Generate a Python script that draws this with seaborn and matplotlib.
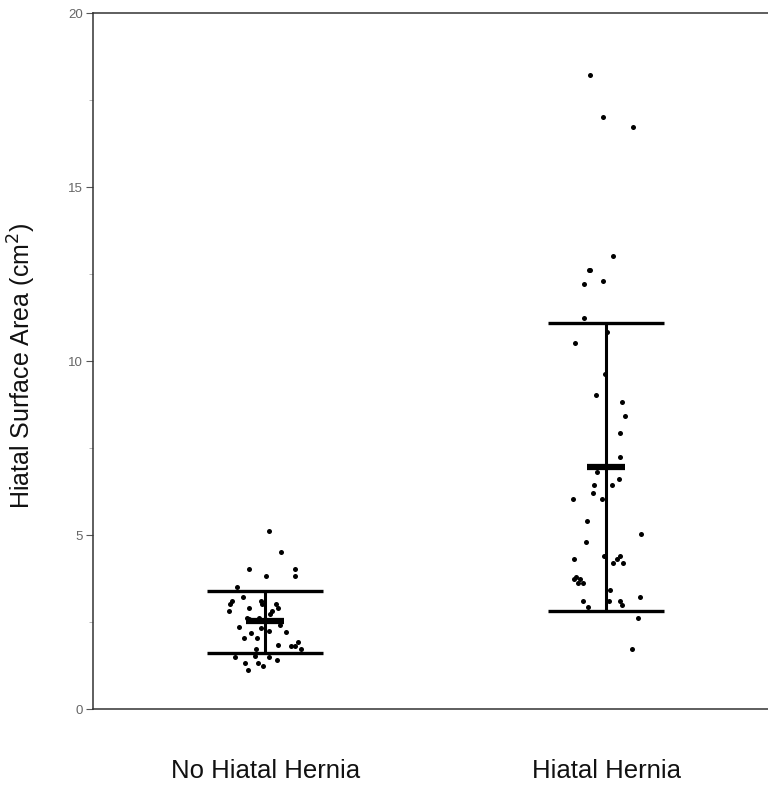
import numpy as np
import pandas as pd
import matplotlib
matplotlib.use("Agg")
import matplotlib.pyplot as plt
import seaborn as sns
from matplotlib.ticker import MultipleLocator

categories = ["No Hiatal Hernia", "Hiatal Hernia"]

no_hh = [5.11, 4.52, 4.01, 3.82, 4.01, 3.82, 3.51, 3.21, 3.11, 3.11, 3.02, 3.02,
         3.01, 2.91, 2.91, 2.82, 2.82, 2.72, 2.62, 2.62, 2.59, 2.41, 2.32, 2.36,
         2.25, 2.22, 2.17, 2.03, 2.03, 1.92, 1.72, 1.84, 1.81, 1.82, 1.72, 1.50,
         1.41, 1.50, 1.52, 1.31, 1.31, 1.24, 1.12]
hh = [18.22, 17.02, 16.71, 13.03, 12.61, 12.61, 12.31, 12.21, 11.23, 10.82,
      10.51, 9.63, 9.02, 8.81, 8.42, 7.92, 7.23, 6.82, 6.61, 6.44, 6.44, 6.22,
      6.03, 6.03, 5.41, 5.02, 4.81, 4.40, 4.30, 4.20, 4.41, 4.20, 4.31, 3.73,
      3.61, 3.73, 3.80, 3.61, 3.42, 3.11, 3.23, 3.11, 3.11, 2.99, 2.92, 2.62, 1.72]

means = [2.53, 6.96]
sd_low = [1.60, 2.83]
sd_high = [3.40, 11.10]

y_ticks = [0, 5, 10, 15, 20]

df = pd.DataFrame({
    "group": [categories[0]] * len(no_hh) + [categories[1]] * len(hh),
    "value": no_hh + hh,
})

sns.set_theme(style="white")
plt.rcParams["font.family"] = ["Liberation Sans", "DejaVu Sans"]

fig = plt.figure(figsize=(7.68, 7.91), dpi=100)
ax = fig.add_axes([93 / 768, 82 / 791, 675 / 768, 696 / 791])

np.random.seed(3)
sns.stripplot(data=df, x="group", y="value", order=categories, jitter=0.11,
              color="black", size=3.6, linewidth=0, ax=ax, zorder=2)

for i in range(len(categories)):
    ax.hlines([sd_low[i], sd_high[i]], i - 0.17, i + 0.17, color="black",
              linewidth=2.4, zorder=3)
    ax.vlines(i, sd_low[i], sd_high[i], color="black", linewidth=2.2, zorder=3)
    ax.hlines(means[i], i - 0.055, i + 0.055, color="black", linewidth=4.5,
              zorder=4)

ax.set_xlim(-0.505, 1.475)
ax.set_ylim(0, 20)
ax.set_yticks(y_ticks)
ax.set_yticklabels([str(t) for t in y_ticks])
ax.yaxis.set_minor_locator(MultipleLocator(2.5))

ax.spines["right"].set_visible(False)
for s in ["left", "top", "bottom"]:
    ax.spines[s].set_color("#333333")
    ax.spines[s].set_linewidth(1.1)

ax.tick_params(axis="y", which="major", left=True, length=5, width=0.8,
               color="#555555", labelsize=9.5, labelcolor="#666666", pad=2)
ax.tick_params(axis="y", which="minor", left=True, length=3, width=0.6,
               color="#aaaaaa")
ax.tick_params(axis="x", length=0, labelsize=18.5, labelcolor="#111111", pad=36)

ax.set_xlabel("")
ax.set_ylabel("Hiatal Surface Area (cm$^2$)", fontsize=18, color="#111111")
ax.yaxis.set_label_coords((38 - 93) / 675, 0.493)

fig.savefig("out.png", dpi=100)
